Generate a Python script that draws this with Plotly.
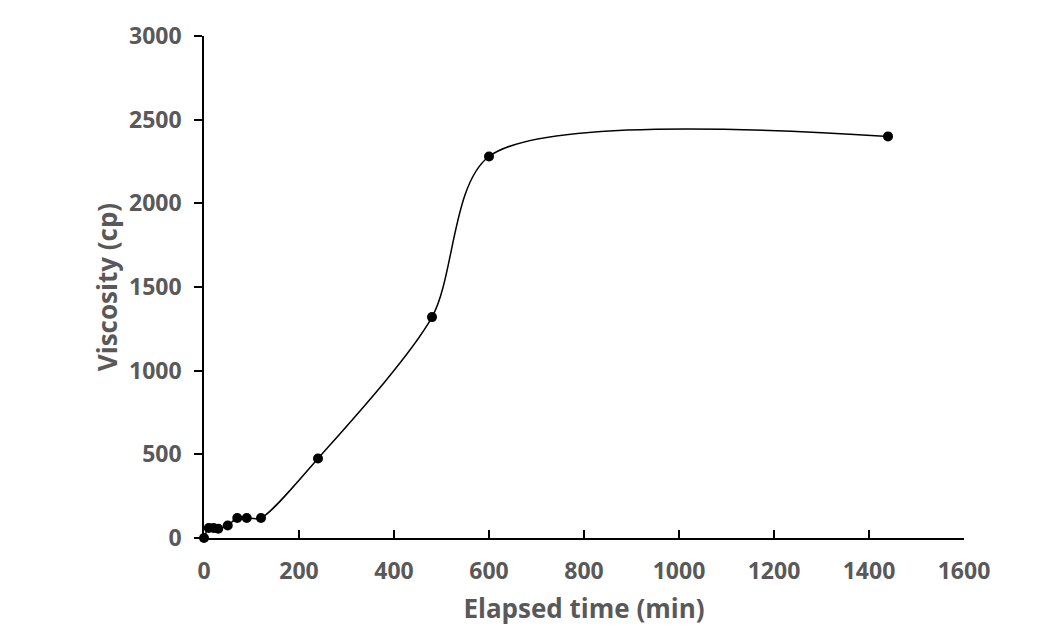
import plotly.graph_objects as go

time_min = [0, 10, 20, 30, 50, 70, 90, 120, 240, 480, 600, 1440]
viscosity_cp = [0, 60, 60, 55, 75, 120, 120, 120, 475, 1320, 2280, 2400]

x_ticks = [0, 200, 400, 600, 800, 1000, 1200, 1400, 1600]
y_ticks = [0, 500, 1000, 1500, 2000, 2500, 3000]

font_family = "Open Sans"
gray = "#595959"

fig = go.Figure()
fig.add_trace(go.Scatter(
    x=time_min, y=viscosity_cp, mode="lines+markers",
    line=dict(color="black", width=1.5, shape="spline", smoothing=0.8),
    marker=dict(color="black", size=10),
    showlegend=False, cliponaxis=False,
))

fig.update_layout(
    width=1047, height=640,
    margin=dict(l=204, r=83, t=36, b=102),
    paper_bgcolor="white", plot_bgcolor="white",
    font=dict(family=font_family, color=gray),
)
fig.update_xaxes(
    range=[0, 1600], tickvals=x_ticks, ticks="inside", ticklen=8,
    tickcolor="black", tickwidth=1.5, ticklabelstandoff=12,
    showline=True, linecolor="black", linewidth=1.5, showgrid=False, zeroline=False,
    tickfont=dict(size=23, family=font_family, color=gray, weight="bold"),
    title=dict(text="Elapsed time (min)", standoff=14,
               font=dict(size=26, family=font_family, color=gray, weight="bold")),
)
fig.update_yaxes(
    range=[0, 3000], tickvals=y_ticks, ticks="outside", ticklen=8,
    tickcolor="black", tickwidth=1.5, ticklabelstandoff=8,
    showline=True, linecolor="black", linewidth=1.5, showgrid=False, zeroline=False,
    tickfont=dict(size=23, family=font_family, color=gray, weight="bold"),
    title=dict(text="Viscosity (cp)", standoff=4,
               font=dict(size=26, family=font_family, color=gray, weight="bold")),
)

fig.write_html("out.html")
